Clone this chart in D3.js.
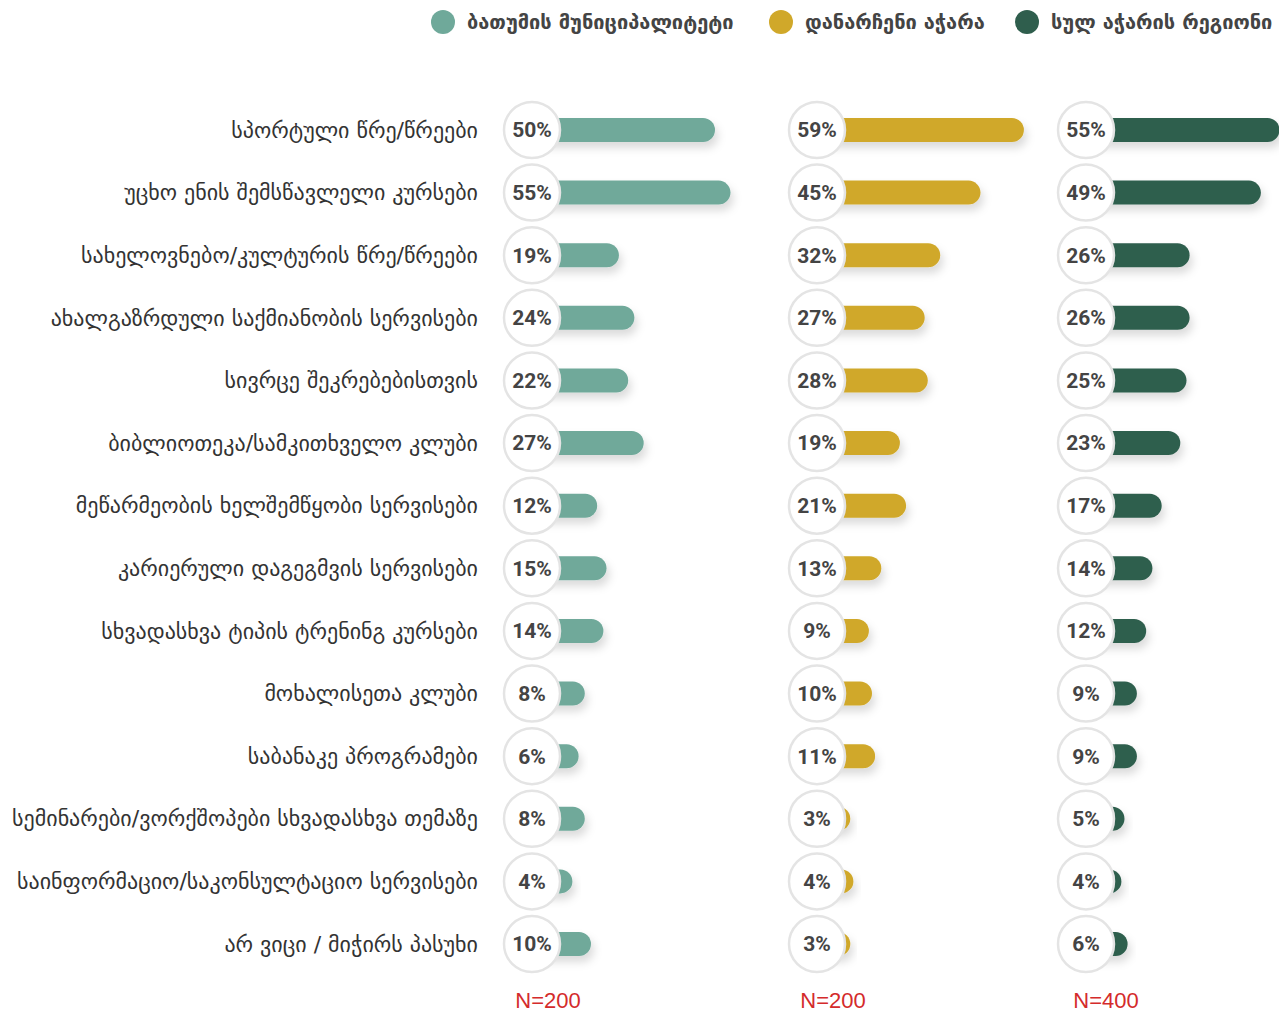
<!DOCTYPE html>
<html>
<head>
<meta charset="utf-8">
<script src="https://cdn.jsdelivr.net/npm/d3@7"></script>
<style>
  body { margin: 0; background: #fff; }
  svg { display: block; }
</style>
</head>
<body>
<div id="root"></div>
<script>
// categories, top to bottom
var categories = [
  "სპორტული წრე/წრეები",
  "უცხო ენის შემსწავლელი კურსები",
  "სახელოვნებო/კულტურის წრე/წრეები",
  "ახალგაზრდული საქმიანობის სერვისები",
  "სივრცე შეკრებებისთვის",
  "ბიბლიოთეკა/სამკითხველო კლუბი",
  "მეწარმეობის ხელშემწყობი სერვისები",
  "კარიერული დაგეგმვის სერვისები",
  "სხვადასხვა ტიპის ტრენინგ კურსები",
  "მოხალისეთა კლუბი",
  "საბანაკე პროგრამები",
  "სემინარები/ვორქშოპები სხვადასხვა თემაზე",
  "საინფორმაციო/საკონსულტაციო სერვისები",
  "არ ვიცი / მიჭირს პასუხი"
];
var batumi     = [50, 55, 19, 24, 22, 27, 12, 15, 14, 8, 6, 8, 4, 10];
var restAdjara = [59, 45, 32, 27, 28, 19, 21, 13, 9, 10, 11, 3, 4, 3];
var allAdjara  = [55, 49, 26, 26, 25, 23, 17, 14, 12, 9, 9, 5, 4, 6];
var seriesNames = ["ბათუმის მუნიციპალიტეტი", "დანარჩენი აჭარა", "სულ აჭარის რეგიონი"];
var sampleSizes = ["N=200", "N=200", "N=400"];

var colors = ["#6fa99a", "#d0a82a", "#2f5e4d"];
var series = [batumi, restAdjara, allAdjara];

var W = 1279, H = 1014;
var panelX = [532, 817, 1086];   // circle centre per panel
var barStart = [28, 24, 23];     // where the bar's zero sits, right of the centre
var nShift = [16, 16, 20];
var r = 28;

var svg = d3.select("#root").append("svg")
  .attr("width", W)
  .attr("height", H);

// soft shadow under the bars
var defs = svg.append("defs");
var f = defs.append("filter").attr("id", "shadow")
  .attr("x", "-20%").attr("y", "-60%").attr("width", "140%").attr("height", "260%");
f.append("feDropShadow")
  .attr("dx", 3).attr("dy", 6).attr("stdDeviation", 4)
  .attr("flood-color", "#000").attr("flood-opacity", 0.14);

var y = d3.scaleBand()
  .domain(categories)
  .range([98.7, 975.3]);

var x = d3.scaleLinear()
  .domain([0, 60])
  .range([0, 186]);

// category labels
svg.append("g").selectAll("text")
  .data(categories)
  .enter().append("text")
  .attr("x", 478)
  .attr("y", function (d) { return y(d) + y.bandwidth() / 2; })
  .attr("dy", "0.35em")
  .attr("text-anchor", "end")
  .attr("font-family", "DejaVu Sans, sans-serif")
  .attr("font-size", 22)
  .attr("fill", "#333")
  .text(function (d) { return d; });

// one panel per series
series.forEach(function (vals, p) {
  var cx = panelX[p];
  var g = svg.append("g");
  var rows = categories.map(function (c, i) { return { cat: c, v: vals[i] }; });

  g.selectAll("rect.bar")
    .data(rows)
    .enter().append("rect")
    .attr("class", "bar")
    .attr("x", cx)
    .attr("y", function (d) { return y(d.cat) + y.bandwidth() / 2 - 12; })
    .attr("width", function (d) { return barStart[p] + x(d.v); })
    .attr("height", 24)
    .attr("rx", 12)
    .attr("fill", colors[p])
    .attr("filter", "url(#shadow)");

  g.selectAll("circle")
    .data(rows)
    .enter().append("circle")
    .attr("cx", cx)
    .attr("cy", function (d) { return y(d.cat) + y.bandwidth() / 2; })
    .attr("r", r)
    .attr("fill", "#fff")
    .attr("stroke", "#e4e4e4")
    .attr("stroke-width", 2.5);

  g.selectAll("text.pct")
    .data(rows)
    .enter().append("text")
    .attr("class", "pct")
    .attr("x", cx)
    .attr("y", function (d) { return y(d.cat) + y.bandwidth() / 2; })
    .attr("dy", "0.35em")
    .attr("text-anchor", "middle")
    .attr("font-family", "Roboto, Liberation Sans, sans-serif")
    .attr("font-weight", "bold")
    .attr("font-size", 21)
    .attr("fill", "#444")
    .text(function (d) { return d.v + "%"; });

  svg.append("text")
    .attr("x", cx + nShift[p])
    .attr("y", 1008)
    .attr("text-anchor", "middle")
    .attr("font-family", "Liberation Sans, Arial, sans-serif")
    .attr("font-size", 22)
    .attr("fill", "#d42b2b")
    .text(sampleSizes[p]);
});

// legend
var legendX = [443, 781, 1027];
var lg = svg.append("g").selectAll("g")
  .data(seriesNames)
  .enter().append("g")
  .attr("transform", function (d, i) { return "translate(" + legendX[i] + ",22)"; });
lg.append("circle")
  .attr("r", 12)
  .attr("fill", function (d, i) { return colors[i]; });
lg.append("text")
  .attr("x", 24)
  .attr("dy", "0.35em")
  .attr("font-family", "DejaVu Sans, sans-serif")
  .attr("font-weight", "bold")
  .attr("font-size", 20)
  .attr("fill", "#444")
  .text(function (d) { return d; });
</script>
</body>
</html>
